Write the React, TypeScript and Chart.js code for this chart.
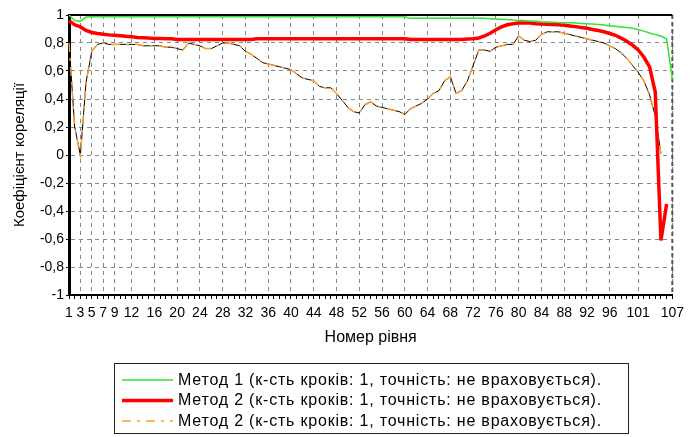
import React, { useEffect, useRef } from 'react';
import { Chart, registerables } from 'chart.js';

Chart.register(...registerables);

const LEVELS = Array.from({ length: 107 }, (_, i) => String(i + 1));

const TICK_LABELS = [1, 3, 5, 7, 9, 12, 16, 20, 24, 28, 32, 36, 40, 44, 48, 52, 56, 60, 64, 68, 72, 76, 80, 84, 88, 92, 96, 101, 107];

const Y_TICKS_STEP = 0.2;

const METHOD1 = [
  1.0, 0.96, 0.955, 0.985, 0.988, 0.988, 0.988, 0.988, 0.988, 0.988,
  0.988, 0.988, 0.988, 0.988, 0.988, 0.988, 0.988, 0.988, 0.988, 0.988,
  0.988, 0.988, 0.988, 0.988, 0.988, 0.988, 0.988, 0.988, 0.988, 0.988,
  0.988, 0.988, 0.988, 0.988, 0.988, 0.988, 0.988, 0.988, 0.988, 0.988,
  0.988, 0.988, 0.988, 0.988, 0.988, 0.988, 0.988, 0.988, 0.988, 0.988,
  0.988, 0.988, 0.988, 0.988, 0.988, 0.988, 0.988, 0.988, 0.988, 0.988,
  0.976, 0.976, 0.976, 0.976, 0.976, 0.976, 0.976, 0.976, 0.976, 0.976,
  0.976, 0.976, 0.976, 0.976, 0.974, 0.972, 0.97, 0.968, 0.965, 0.963,
  0.96, 0.958, 0.955, 0.952, 0.95, 0.948, 0.946, 0.945, 0.944, 0.942,
  0.94, 0.938, 0.935, 0.932, 0.928, 0.924, 0.92, 0.915, 0.91, 0.905,
  0.895, 0.885, 0.872, 0.86, 0.85, 0.83, 0.54,
];

const METHOD2 = [
  0.96, 0.93, 0.915, 0.89, 0.875, 0.868, 0.862, 0.858, 0.855, 0.852,
  0.848, 0.845, 0.84, 0.838, 0.835, 0.833, 0.832, 0.83, 0.83, 0.825,
  0.825, 0.825, 0.825, 0.825, 0.825, 0.825, 0.825, 0.825, 0.825, 0.825,
  0.825, 0.825, 0.825, 0.83, 0.83, 0.83, 0.83, 0.83, 0.83, 0.83,
  0.83, 0.83, 0.83, 0.83, 0.83, 0.83, 0.83, 0.83, 0.83, 0.83,
  0.83, 0.83, 0.83, 0.83, 0.83, 0.83, 0.83, 0.83, 0.83, 0.83,
  0.825, 0.825, 0.825, 0.825, 0.825, 0.825, 0.825, 0.825, 0.825, 0.825,
  0.828, 0.83, 0.835, 0.85, 0.87, 0.895, 0.915, 0.93, 0.938, 0.942,
  0.942, 0.942, 0.938, 0.936, 0.934, 0.932, 0.93, 0.926, 0.922, 0.917,
  0.911, 0.905, 0.897, 0.889, 0.88, 0.868, 0.855, 0.835, 0.812, 0.785,
  0.75, 0.7, 0.63, 0.45, -0.61, -0.35, null,
];

const METHOD2_ALT = [
  0.8, 0.2, 0.0, 0.52, 0.74, 0.79, 0.8, 0.79, 0.79, 0.79,
  0.79, 0.79, 0.79, 0.78, 0.78, 0.78, 0.78, 0.77, 0.77, 0.76,
  0.75, 0.8, 0.79, 0.78, 0.76, 0.76, 0.78, 0.8, 0.8, 0.79,
  0.78, 0.74, 0.72, 0.69, 0.66, 0.65, 0.64, 0.63, 0.62, 0.61,
  0.58, 0.55, 0.54, 0.53, 0.49, 0.48, 0.48, 0.44, 0.39, 0.34,
  0.31, 0.3, 0.36, 0.38, 0.35, 0.34, 0.33, 0.32, 0.31, 0.29,
  0.33, 0.35, 0.37, 0.4, 0.44, 0.46, 0.53, 0.56, 0.44, 0.46,
  0.53, 0.64, 0.75, 0.75, 0.74, 0.77, 0.78, 0.79, 0.79, 0.85,
  0.82, 0.81, 0.82, 0.86, 0.88, 0.88, 0.88, 0.87, 0.86, 0.85,
  0.84, 0.83, 0.82, 0.81, 0.8, 0.78, 0.76, 0.73, 0.69, 0.64,
  0.59, 0.53, 0.43, 0.28, 0.01, null, null,
];

const SERIES_NAMES = [
  'Метод 1 (к-сть кроків: 1, точність: не враховується).',
  'Метод 2 (к-сть кроків: 1, точність: не враховується).',
  'Метод 2 (к-сть кроків: 1, точність: не враховується).',
];

const X_TITLE = 'Номер рівня';
const Y_TITLE = 'Коефіцієнт кореляції';

const FONT = '"Liberation Sans", Arial, sans-serif';
const GRID = '#868686';

export default function App() {
  const ref = useRef<HTMLCanvasElement>(null);

  useEffect(() => {
    if (!ref.current) return;
    const tickSet = new Set(TICK_LABELS.map(String));
    Chart.defaults.font.family = FONT;

    const frame = {
      id: 'frame',
      beforeDatasetsDraw(chart: any) {
        const { ctx, chartArea: a } = chart;
        ctx.save();
        ctx.strokeStyle = '#555';
        ctx.lineWidth = 2;
        ctx.setLineDash([4, 3]);
        ctx.beginPath();
        ctx.moveTo(a.right, a.top);
        ctx.lineTo(a.right, a.bottom);
        ctx.stroke();
        ctx.setLineDash([]);
        ctx.strokeStyle = '#000';
        ctx.beginPath();
        ctx.moveTo(a.left, a.top);
        ctx.lineTo(a.right, a.top);
        ctx.stroke();
        ctx.restore();
      },
    };

    const legendBox = {
      id: 'legendBox',
      afterDraw(chart: any) {
        const { ctx } = chart;
        ctx.save();
        ctx.strokeStyle = '#222';
        ctx.lineWidth = 1;
        ctx.strokeRect(114.5, 363.5, 514, 70);
        const rows = [380, 400.5, 421];
        for (let i = 0; i < 3; i++) {
          const ds = chart.data.datasets[i];
          ctx.strokeStyle = ds.borderColor;
          ctx.lineWidth = ds.borderWidth;
          ctx.setLineDash(ds.borderDash || []);
          ctx.beginPath();
          ctx.moveTo(122, rows[i]);
          ctx.lineTo(173, rows[i]);
          ctx.stroke();
          ctx.setLineDash([]);
          ctx.fillStyle = '#000';
          ctx.font = '16px ' + FONT;
          (ctx as any).letterSpacing = '0.8px';
          ctx.textBaseline = 'middle';
          ctx.textAlign = 'left';
          ctx.fillText(ds.label, 178, rows[i] + 0.5);
        }
        ctx.restore();
      },
    };

    const chart = new Chart(ref.current, {
      type: 'line',
      data: {
        labels: LEVELS,
        datasets: [
          { label: SERIES_NAMES[0], data: METHOD1, borderColor: '#2ee62e', borderWidth: 1.5, pointRadius: 0, tension: 0 },
          { label: SERIES_NAMES[1], data: METHOD2, borderColor: '#ff0000', borderWidth: 3.5, pointRadius: 0, tension: 0 },
          { label: SERIES_NAMES[2], data: METHOD2_ALT, borderColor: '#ff9a33', borderWidth: 1.5, borderDash: [9, 6, 3, 6], pointRadius: 0, tension: 0 },
          { label: '', data: METHOD2_ALT, borderColor: '#000000', borderWidth: 1, pointRadius: 0, tension: 0 },
        ],
      },
      options: {
        animation: false,
        responsive: false,
        maintainAspectRatio: false,
        layout: { padding: { left: 0, right: 13, top: 15, bottom: 82 }, autoPadding: false },
        plugins: {
          legend: { display: false },
          tooltip: { enabled: false },
        },
        scales: {
          x: {
            type: 'category',
            offset: false,
            ticks: {
              autoSkip: false,
              maxRotation: 0,
              minRotation: 0,
              padding: 6,
              color: '#000',
              font: { size: 14 },
              callback: (_v: any, index: number) => (tickSet.has(LEVELS[index]) ? LEVELS[index] : ''),
            },
            grid: {
              color: (c: any) => (tickSet.has(LEVELS[c.index]) ? GRID : 'rgba(0,0,0,0)'),
              lineWidth: 1,
              tickLength: 4,
              tickColor: '#000',
            },
            border: { color: '#000', width: 2, dash: [4, 4] },
            title: { display: true, text: X_TITLE, color: '#000', font: { size: 16 }, padding: { top: 0, bottom: 8 } },
            afterFit: (s: any) => { s.height = 60; },
          },
          y: {
            min: -1,
            max: 1,
            ticks: {
              stepSize: Y_TICKS_STEP,
              padding: 2,
              color: '#000',
              font: { size: 14 },
              callback: (v: any) => String(Math.round(Number(v) * 10) / 10).replace('.', ','),
            },
            grid: { color: GRID, lineWidth: 1, tickLength: 3, tickColor: '#000' },
            border: { color: '#000', width: 3, dash: [4, 4] },
            title: { display: true, text: Y_TITLE, color: '#000', font: { size: 15 }, padding: { top: 11, bottom: 0 } },
            afterFit: (s: any) => { s.width = 69; },
          },
        },
      },
      plugins: [frame, legendBox],
    });

    return () => chart.destroy();
  }, []);

  return (
    <div style={{ position: 'absolute', left: 0, top: 0, width: 690, height: 437, background: '#fff' }}>
      <canvas ref={ref} width={690} height={437} style={{ display: 'block' }} />
    </div>
  );
}
